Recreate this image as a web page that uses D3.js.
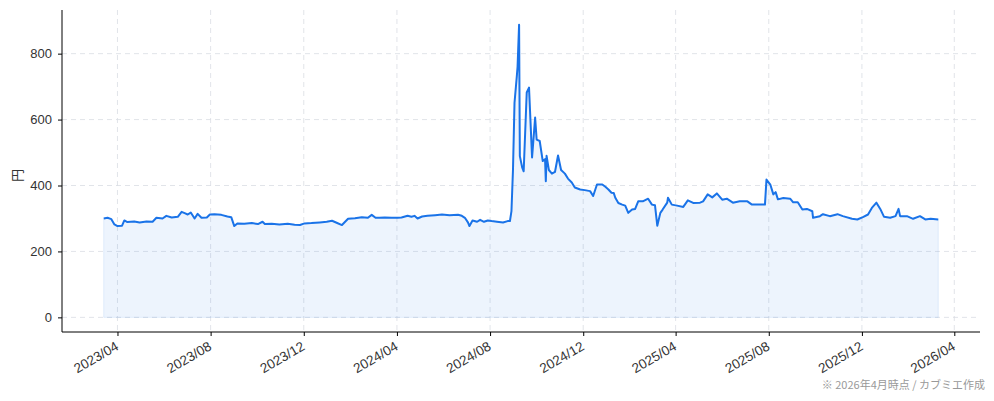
<!DOCTYPE html>
<html>
<head>
<meta charset="utf-8">
<script src="https://cdn.jsdelivr.net/npm/d3@7"></script>
<style>
  body { margin: 0; background: #fff; }
  svg text { font-family: "Liberation Sans", "Noto Sans CJK JP", sans-serif; }
  .grid line { stroke: #d9dde3; stroke-dasharray: 5,4; stroke-width: 0.8; }
  .axis path, .axis line { stroke: #000; }
  .axis text { fill: #333; font-size: 13px; }
</style>
</head>
<body>
<svg id="chart" width="994" height="401"></svg>
<script>
// price series (円)
const dates = [
  "2023-03-14","2023-03-19","2023-03-24","2023-03-28","2023-04-01","2023-04-07","2023-04-10","2023-04-14",
  "2023-04-23","2023-04-30","2023-05-09","2023-05-17","2023-05-22","2023-05-30","2023-06-04","2023-06-11",
  "2023-06-19","2023-06-24","2023-06-28","2023-07-02","2023-07-06","2023-07-11","2023-07-15","2023-07-20",
  "2023-07-27","2023-07-31","2023-08-06","2023-08-15","2023-08-23","2023-08-28","2023-09-01","2023-09-05",
  "2023-09-14","2023-09-24","2023-10-02","2023-10-08","2023-10-11","2023-10-20","2023-10-30","2023-11-10",
  "2023-11-19","2023-11-26","2023-12-02","2023-12-11","2023-12-22","2023-12-31","2024-01-07","2024-01-13",
  "2024-01-20","2024-01-28","2024-02-06","2024-02-15","2024-02-23","2024-02-28","2024-03-04","2024-03-09",
  "2024-03-16","2024-03-25","2024-04-02","2024-04-07","2024-04-15","2024-04-20","2024-04-24","2024-04-28",
  "2024-05-04","2024-05-11","2024-05-21","2024-05-30","2024-06-09","2024-06-20","2024-06-25","2024-06-29",
  "2024-07-03","2024-07-05","2024-07-09","2024-07-15","2024-07-19","2024-07-24","2024-07-29","2024-08-03",
  "2024-08-10","2024-08-18","2024-08-24","2024-08-27","2024-08-29","2024-08-31","2024-09-02","2024-09-05",
  "2024-09-06","2024-09-08","2024-09-09","2024-09-12","2024-09-14","2024-09-18","2024-09-21","2024-09-25",
  "2024-09-29","2024-10-01","2024-10-05","2024-10-09","2024-10-12","2024-10-13","2024-10-14","2024-10-17",
  "2024-10-21","2024-10-25","2024-10-29","2024-11-02","2024-11-07","2024-11-11","2024-11-16","2024-11-20",
  "2024-11-27","2024-12-03","2024-12-10","2024-12-14","2024-12-19","2024-12-26","2024-12-30","2025-01-03",
  "2025-01-07","2025-01-10","2025-01-12","2025-01-16","2025-01-21","2025-01-25","2025-01-29","2025-02-03",
  "2025-02-07","2025-02-11","2025-02-17","2025-02-24","2025-03-01","2025-03-05","2025-03-08","2025-03-12",
  "2025-03-15","2025-03-21","2025-03-22","2025-03-27","2025-04-03","2025-04-11","2025-04-17","2025-04-24",
  "2025-05-03","2025-05-07","2025-05-13","2025-05-19","2025-05-25","2025-06-01","2025-06-07","2025-06-15",
  "2025-06-24","2025-07-04","2025-07-10","2025-07-17","2025-07-27","2025-07-29","2025-08-03","2025-08-07",
  "2025-08-10","2025-08-13","2025-08-20","2025-08-29","2025-09-02","2025-09-08","2025-09-14","2025-09-20",
  "2025-09-27","2025-09-28","2025-10-07","2025-10-11","2025-10-20","2025-10-30","2025-11-06","2025-11-18",
  "2025-11-25","2025-12-03","2025-12-09","2025-12-14","2025-12-20","2025-12-25","2025-12-30","2026-01-07",
  "2026-01-14","2026-01-18","2026-01-20","2026-01-29","2026-02-06","2026-02-15","2026-02-22","2026-03-01",
  "2026-03-11"
];
const prices = [
  300,302,298,282,277,278,294,289,
  291,288,291,290,302,300,308,303,
  305,320,316,312,318,300,314,302,
  303,312,313,311,306,304,277,285,
  284,286,283,290,283,284,282,284,
  281,280,285,286,288,290,293,287,
  280,299,301,304,302,311,302,302,
  303,302,302,303,308,305,308,300,
  306,308,310,312,310,311,308,302,
  288,277,294,290,296,290,294,292,
  290,288,292,292,322,448,651,731,
  760,888,489,455,443,682,697,485,
  606,539,535,474,480,413,490,447,
  436,441,491,447,436,421,409,394,
  388,386,383,368,403,403,396,388,
  378,377,363,347,342,339,317,327,
  329,352,352,360,342,340,278,317,
  327,348,363,342,339,335,355,347,
  348,352,373,364,376,357,360,348,
  352,352,342,342,342,418,403,373,
  380,358,362,360,349,349,327,329,
  322,302,307,313,307,313,307,299,
  297,305,312,332,348,329,305,302,
  307,329,307,307,299,307,297,299,
  297
];
const yTicks = [0, 200, 400, 600, 800];
const xTickDates = ["2023-04-01","2023-08-01","2023-12-01","2024-04-01","2024-08-01","2024-12-01",
                    "2025-04-01","2025-08-01","2025-12-01","2026-04-01"];
const yLabel = "円";
const footnote = "※ 2026年4月時点 / カブミエ作成";

const parse = d3.timeParse("%Y-%m-%d");
const data = dates.map((d, i) => ({date: parse(d), v: prices[i]}));

const svg = d3.select("#chart");
const padding = {left: 62, right: 14, top: 10, bottom: 69};
const W = 994 - padding.left - padding.right;
const H = 401 - padding.top - padding.bottom;
const g = svg.append("g").attr("transform", "translate(" + padding.left + "," + padding.top + ")");

// matplotlib-like 5% margins
const xExt = d3.extent(data, d => d.date);
const span = xExt[1] - xExt[0];
const x = d3.scaleTime()
  .domain([new Date(+xExt[0] - span * 0.05), new Date(+xExt[1] + span * 0.05)])
  .range([0, W]);
const yMax = d3.max(prices);
const y = d3.scaleLinear().domain([-yMax * 0.05, yMax * 1.05]).range([H, 0]);

const xTicks = xTickDates.map(parse);

// grid
g.append("g").attr("class", "grid")
  .selectAll("line.h").data(yTicks).enter().append("line")
  .attr("x1", 0).attr("x2", W)
  .attr("y1", d => y(d)).attr("y2", d => y(d));
g.append("g").attr("class", "grid")
  .selectAll("line.v").data(xTicks).enter().append("line")
  .attr("y1", 0).attr("y2", H)
  .attr("x1", d => x(d)).attr("x2", d => x(d));

// area + line
const area = d3.area().x(d => x(d.date)).y0(y(0)).y1(d => y(d.v));
g.append("path").datum(data)
  .attr("d", area)
  .attr("fill", "#1a73e8").attr("fill-opacity", 0.08)
  .attr("stroke", "#1a73e8").attr("stroke-opacity", 0.1).attr("stroke-width", 1);

const line = d3.line().x(d => x(d.date)).y(d => y(d.v));
g.append("path").datum(data)
  .attr("d", line)
  .attr("fill", "none")
  .attr("stroke", "#1a73e8")
  .attr("stroke-width", 2)
  .attr("stroke-linejoin", "round");

// axes
const yAxis = g.append("g").attr("class", "axis")
  .call(d3.axisLeft(y).tickValues(yTicks).tickSize(4).tickPadding(6));
yAxis.select(".domain").attr("d", "M0," + H + "V0");

const xAxis = g.append("g").attr("class", "axis")
  .attr("transform", "translate(0," + H + ")")
  .call(d3.axisBottom(x).tickValues(xTicks).tickSize(4).tickFormat(d3.timeFormat("%Y/%m")));
xAxis.select(".domain").attr("d", "M0,0H" + W);
xAxis.selectAll("text")
  .attr("text-anchor", "end")
  .style("font-size", "13.5px")
  .attr("dx", 0).attr("dy", 0)
  .attr("transform", "translate(-2,11) rotate(-30)");

// y label
svg.append("text")
  .attr("transform", "translate(22," + (padding.top + y(400) - 10) + ") rotate(-90)")
  .attr("text-anchor", "middle")
  .style("font-family", "'Noto Sans CJK JP'")
  .attr("font-size", 13).attr("fill", "#333")
  .text(yLabel);

// footnote
svg.append("text")
  .attr("x", 985).attr("y", 389)
  .attr("text-anchor", "end")
  .style("font-family", "'Noto Sans CJK JP'")
  .attr("font-size", 11).attr("fill", "#999")
  .text(footnote);
</script>
</body>
</html>
